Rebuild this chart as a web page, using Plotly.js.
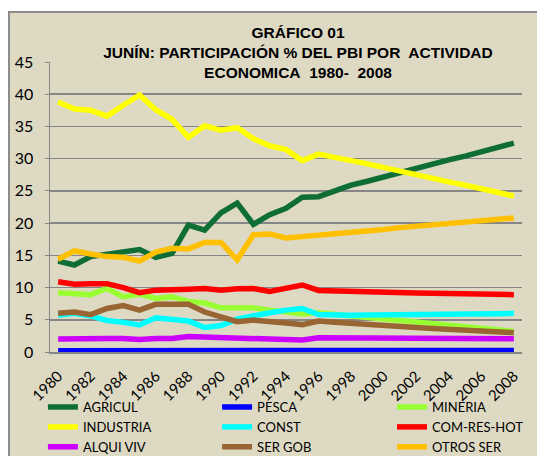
<!DOCTYPE html>
<html>
<head>
<meta charset="utf-8">
<script src="https://cdn.plot.ly/plotly-3.0.1.min.js"></script>
<style>
  html, body { margin: 0; padding: 0; background: #ffffff; overflow: hidden; width: 537px; height: 456px; }
  #wrap { position: absolute; left: 8px; top: 11px; border-left: 2px solid #8c8c8c; border-top: 2px solid #8c8c8c; width: 545px; height: 475px; background: #ddd9c3; }
  #chart { width: 545px; height: 475px; }
</style>
</head>
<body>
<div id="wrap"><div id="chart"></div></div>
<script>
const years = [1980,1981,1982,1983,1984,1985,1986,1987,1988,1989,1990,1991,1992,1993,1994,1995,1996,1997,1998,1999,2000,2001,2002,2003,2004,2005,2006,2007,2008];
const tickYears = [1980,1982,1984,1986,1988,1990,1992,1994,1996,1998,2000,2002,2004,2006,2008];

const agricul   = [14.1,13.5,14.8,15.1,15.4,15.9,14.7,15.3,19.7,18.9,21.6,23.1,19.8,21.3,22.3,24.0,24.1,25.0,25.9,26.5,27.2,27.8,28.5,29.1,29.8,30.4,31.1,31.7,32.4];
const pesca     = [0.2,0.2,0.2,0.2,0.2,0.2,0.2,0.25,0.3,0.3,0.25,0.2,0.2,0.2,0.2,0.2,0.25,0.25,0.25,0.25,0.25,0.25,0.25,0.25,0.25,0.25,0.25,0.25,0.25];
const mineria   = [9.2,9.1,8.9,9.85,8.55,9.0,8.3,8.55,7.85,7.6,6.85,6.85,6.85,6.5,6.2,5.9,6.1,5.8,5.6,5.35,5.1,4.9,4.65,4.4,4.2,3.95,3.7,3.45,3.2];
const industria = [38.8,37.7,37.5,36.6,38.3,39.9,37.6,36.1,33.3,35.1,34.4,34.8,33.1,32.0,31.4,29.7,30.7,30.3,29.7,29.2,28.6,28.1,27.5,27.0,26.4,25.9,25.3,24.8,24.2];
const constr    = [5.7,6.0,5.6,4.9,4.6,4.2,5.3,5.0,4.8,3.8,4.1,5.1,5.7,6.1,6.5,6.75,5.8,5.7,5.7,5.75,5.75,5.8,5.8,5.85,5.85,5.9,5.9,5.95,6.0];
const comResHot = [10.9,10.5,10.6,10.6,10.0,9.2,9.6,9.6,9.75,9.85,9.6,9.8,9.85,9.4,10.0,10.4,9.55,9.45,9.35,9.3,9.25,9.2,9.15,9.1,9.05,9.0,9.0,8.95,8.9];
const alquiViv  = [2.0,2.1,2.05,2.1,2.1,1.95,2.1,2.1,2.4,2.35,2.2,2.2,2.2,2.1,1.95,1.85,2.2,2.2,2.15,2.15,2.15,2.1,2.1,2.1,2.1,2.1,2.1,2.05,2.05];
const serGob    = [6.0,6.2,5.8,6.75,7.2,6.5,7.4,7.5,7.4,6.2,5.45,4.7,4.95,4.8,4.5,4.25,4.8,4.6,4.4,4.25,4.1,3.95,3.8,3.65,3.55,3.4,3.3,3.15,3.0];
const otrosSer  = [14.4,15.7,15.2,14.8,14.7,14.1,15.5,16.1,16.0,17.0,17.0,14.3,18.2,18.3,17.7,17.9,18.0,18.3,18.6,18.8,19.0,19.3,19.5,19.7,19.9,20.1,20.4,20.6,20.8];

const seriesNames = ['AGRICUL','PESCA','MINERIA','INDUSTRIA','CONST','COM-RES-HOT','ALQUI VIV','SER GOB','OTROS SER'];
const seriesData  = [agricul,pesca,mineria,industria,constr,comResHot,alquiViv,serGob,otrosSer];
const seriesColors = ['#0e6e36','#0000ff','#99ff33','#ffff00','#00ffff','#ff0000','#cc00ff','#996633','#ffc000'];
const legendIds = ['legend','legend2','legend3','legend','legend2','legend3','legend','legend2','legend3'];

const traces = seriesNames.map((n, i) => ({
  type: 'scatter', mode: 'lines', name: n, x: years, y: seriesData[i],
  line: { color: seriesColors[i], width: 5.5 },
  legend: legendIds[i], hoverinfo: 'skip'
}));

const legFont = { family: 'Lato, sans-serif', size: 13, color: '#000' };
const legBase = { orientation: 'v', yanchor: 'top', y: -0.138, xanchor: 'left', bgcolor: 'rgba(0,0,0,0)', font: legFont, itemwidth: 30, tracegroupgap: 0 };

const layout = {
  width: 545, height: 475,
  paper_bgcolor: '#ddd9c3', plot_bgcolor: '#ddd9c3',
  margin: { l: 40, r: 33, t: 49, b: 136 },
  title: {
    text: 'GRÁFICO 01<br>JUNÍN: PARTICIPACIÓN % DEL PBI POR\u00a0 ACTIVIDAD<br>ECONOMICA\u00a0 1980-\u00a0 2008',
    font: { family: 'Liberation Sans, Arial, sans-serif', size: 15.5, color: '#000', weight: 'bold' },
    x: 288 / 545, xanchor: 'center', xref: 'container',
    y: 1 - 25 / 475, yanchor: 'top', yref: 'container'
  },
  xaxis: {
    range: [1979.5, 2008.5], tickmode: 'array', tickvals: tickYears, ticktext: tickYears.map(String),
    tickangle: -45, tickfont: { family: 'Lato, sans-serif', size: 15, color: '#000' },
    showgrid: false, zeroline: false, showline: true, linecolor: '#868686', linewidth: 1.5,
    ticks: '', ticklabelstandoff: 8, fixedrange: true
  },
  yaxis: {
    range: [0, 45], dtick: 5, tick0: 0,
    tickfont: { family: 'Lato, sans-serif', size: 16, color: '#000' },
    showgrid: true, gridcolor: '#868686', gridwidth: 1.5, zeroline: false,
    showline: true, linecolor: '#868686', linewidth: 1.5,
    ticks: 'outside', ticklen: 4, tickcolor: '#868686', ticklabelstandoff: 8, fixedrange: true
  },
  legend:  Object.assign({}, legBase, { x: -0.015 }),
  legend2: Object.assign({}, legBase, { x: 0.354 }),
  legend3: Object.assign({}, legBase, { x: 0.7246 }),
  showlegend: true
};

Plotly.newPlot('chart', traces, layout, { displayModeBar: false, staticPlot: true });
</script>
</body>
</html>
